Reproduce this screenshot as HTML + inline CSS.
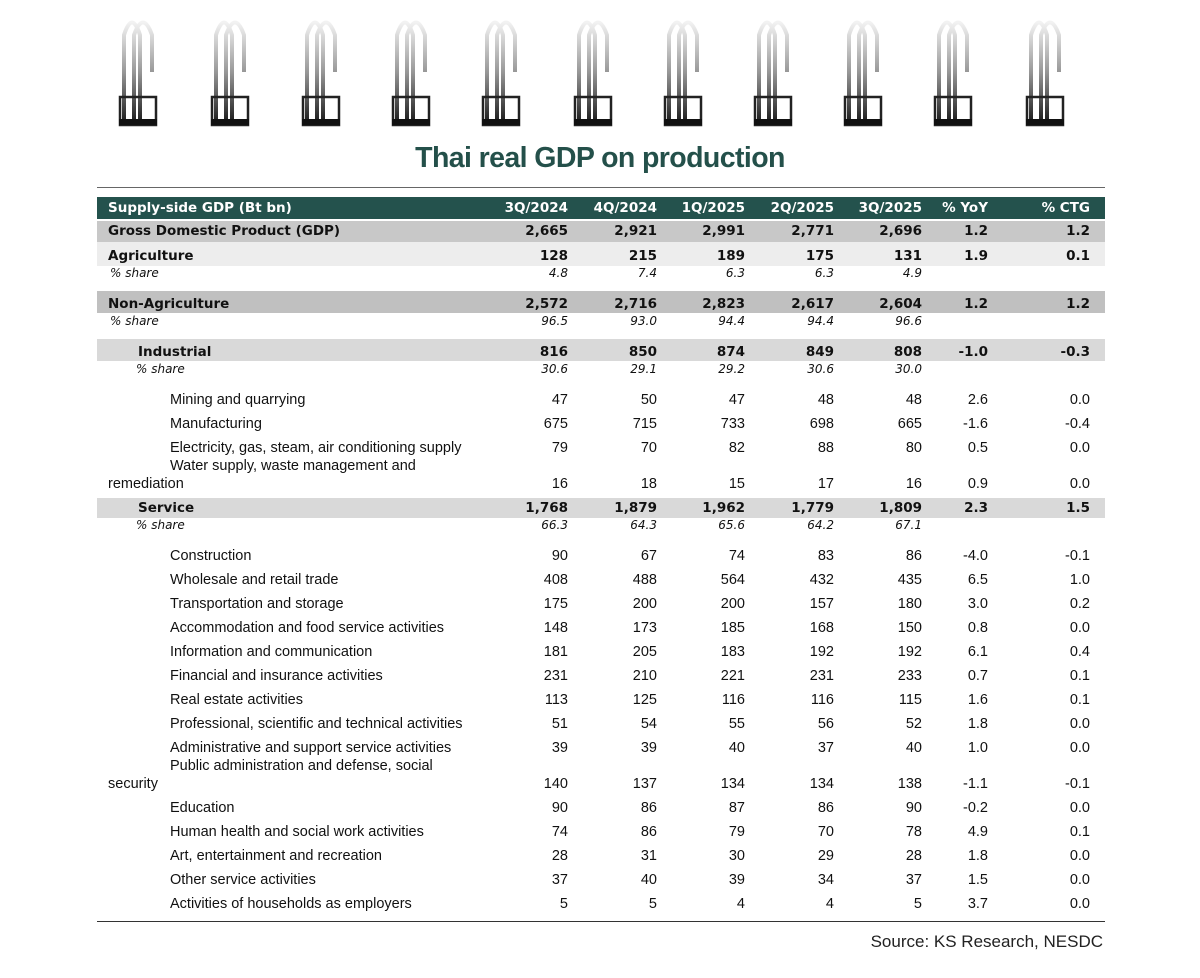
<!DOCTYPE html>
<html><head><meta charset="utf-8">
<style>
body{margin:0;width:1200px;height:978px;background:#fff;position:relative;overflow:hidden;font-family:"Liberation Sans",sans-serif;}
.abs{position:absolute;}
.band{position:absolute;left:97px;width:1008px;}
.t{position:absolute;white-space:nowrap;line-height:20px;height:20px;color:#111;}
.b{font-family:"DejaVu Sans",sans-serif;font-weight:bold;font-size:13.5px;}
.r{font-size:14.5px;}
.i{font-family:"DejaVu Sans",sans-serif;font-style:italic;font-size:12px;}
.num{text-align:right;width:80px;}
</style></head>
<body>
<svg class="abs" style="left:0;top:0" width="1200" height="135">
<defs>
<linearGradient id="g" x1="0" y1="0" x2="0" y2="1"><stop offset="0" stop-color="#f2f2f2"/><stop offset="0.5" stop-color="#999"/><stop offset="1" stop-color="#222"/></linearGradient>
</defs>
<g id="rings"></g>
</svg>
<div class="abs" style="left:0;width:1200px;top:142px;text-align:center;font-weight:bold;font-size:28.5px;color:#24504a;letter-spacing:-0.6px;">Thai real GDP on production</div>
<div class="abs" style="left:97px;width:1008px;top:187px;height:1px;background:#666"></div>
<div class="band" style="top:197px;height:22px;background:#24524d"></div>
<div id="tbl"></div>
<div class="abs" style="left:97px;width:1008px;top:921px;height:1px;background:#333"></div>
<div class="abs" style="right:97px;top:932px;font-size:17px;color:#222">Source: KS Research, NESDC</div>
<script>
const headers=["3Q/2024","4Q/2024","1Q/2025","2Q/2025","3Q/2025","% YoY","% CTG"];
const colRight=[568,657,745,834,922,988,1090];
const rows=[
["Gross Domestic Product (GDP)","b",231,["2,665","2,921","2,991","2,771","2,696","1.2","1.2"],108,"#c8c8c8",221,21],
["Agriculture","b",256,["128","215","189","175","131","1.9","0.1"],108,"#ededed",242,24],
["% share","i",273,["4.8","7.4","6.3","6.3","4.9"],110],
["Non-Agriculture","b",304,["2,572","2,716","2,823","2,617","2,604","1.2","1.2"],108,"#c0c0c0",291,22],
["% share","i",321,["96.5","93.0","94.4","94.4","96.6"],110],
["Industrial","b",352,["816","850","874","849","808","-1.0","-0.3"],138,"#d9d9d9",339,22],
["% share","i",369,["30.6","29.1","29.2","30.6","30.0"],136],
["Mining and quarrying","r",400,["47","50","47","48","48","2.6","0.0"],170],
["Manufacturing","r",424,["675","715","733","698","665","-1.6","-0.4"],170],
["Electricity, gas, steam, air conditioning supply","r",448,["79","70","82","88","80","0.5","0.0"],170],
["Water supply, waste management and","r",466,[],170],
["remediation","r",484,["16","18","15","17","16","0.9","0.0"],108],
["Service","b",508,["1,768","1,879","1,962","1,779","1,809","2.3","1.5"],138,"#d9d9d9",498,20],
["% share","i",525,["66.3","64.3","65.6","64.2","67.1"],136],
["Construction","r",556,["90","67","74","83","86","-4.0","-0.1"],170],
["Wholesale and retail trade","r",580,["408","488","564","432","435","6.5","1.0"],170],
["Transportation and storage","r",604,["175","200","200","157","180","3.0","0.2"],170],
["Accommodation and food service activities","r",628,["148","173","185","168","150","0.8","0.0"],170],
["Information and communication","r",652,["181","205","183","192","192","6.1","0.4"],170],
["Financial and insurance activities","r",676,["231","210","221","231","233","0.7","0.1"],170],
["Real estate activities","r",700,["113","125","116","116","115","1.6","0.1"],170],
["Professional, scientific and technical activities","r",724,["51","54","55","56","52","1.8","0.0"],170],
["Administrative and support service activities","r",748,["39","39","40","37","40","1.0","0.0"],170],
["Public administration and defense, social","r",766,[],170],
["security","r",784,["140","137","134","134","138","-1.1","-0.1"],108],
["Education","r",808,["90","86","87","86","90","-0.2","0.0"],170],
["Human health and social work activities","r",832,["74","86","79","70","78","4.9","0.1"],170],
["Art, entertainment and recreation","r",856,["28","31","30","29","28","1.8","0.0"],170],
["Other service activities","r",880,["37","40","39","34","37","1.5","0.0"],170],
["Activities of households as employers","r",904,["5","5","4","4","5","3.7","0.0"],170]
];
const tbl=document.getElementById('tbl');
function txt(s,cls,x,cy,right,color){
  const d=document.createElement('div');
  d.className='t '+cls+(right?' num':'');
  d.style.top=(cy-10)+'px';
  d.style.left=(right?x-80:x)+'px';
  if(color)d.style.color=color;
  d.textContent=s;
  tbl.appendChild(d);return d;
}
const h0=txt("Supply-side GDP (Bt bn)","b",108,208,false,"#fff");


headers.forEach((h,i)=>{
  const d=txt(h,"b",colRight[i],208,true,"#fff");
  
  
});
rows.forEach(r=>{
  if(r[5]){
    const b=document.createElement('div');
    b.className='band';b.style.top=r[6]+'px';b.style.height=r[7]+'px';b.style.background=r[5];
    
    
    tbl.appendChild(b);
  }
  const l=txt(r[0],r[1],r[4],r[2],false);
  
  
  r[3].forEach((v,i)=>{
    const d=txt(v,r[1],colRight[i],r[2],true);
    
    
  });
});
const ringX=[140,232,323,413,503,595,685,775,865,955,1047];
const g=document.getElementById('rings');
const NS='http://www.w3.org/2000/svg';
ringX.forEach(x=>{
  const p1=document.createElementNS(NS,'path');
  p1.setAttribute('d',`M${x-16} 120 L${x-16} 35 Q${x-8} 10 ${x} 35 L${x} 120`);
  p1.setAttribute('fill','none');p1.setAttribute('stroke','url(#g)');p1.setAttribute('stroke-width','4');
  g.appendChild(p1);
  const p2=document.createElementNS(NS,'path');
  p2.setAttribute('d',`M${x-6} 120 L${x-6} 35 Q${x+3} 10 ${x+12} 35 L${x+12} 72`);
  p2.setAttribute('fill','none');p2.setAttribute('stroke','url(#g)');p2.setAttribute('stroke-width','4');
  g.appendChild(p2);
  const base=document.createElementNS(NS,'rect');
  base.setAttribute('x',x-20);base.setAttribute('y',97);base.setAttribute('width',36);base.setAttribute('height',28);
  base.setAttribute('fill','none');base.setAttribute('stroke','#222');base.setAttribute('stroke-width','2.5');
  g.appendChild(base);
  const bot=document.createElementNS(NS,'rect');
  bot.setAttribute('x',x-21);bot.setAttribute('y',119);bot.setAttribute('width',38);bot.setAttribute('height',6);
  bot.setAttribute('fill','#111');
  g.appendChild(bot);
});
</script>
</body></html>
